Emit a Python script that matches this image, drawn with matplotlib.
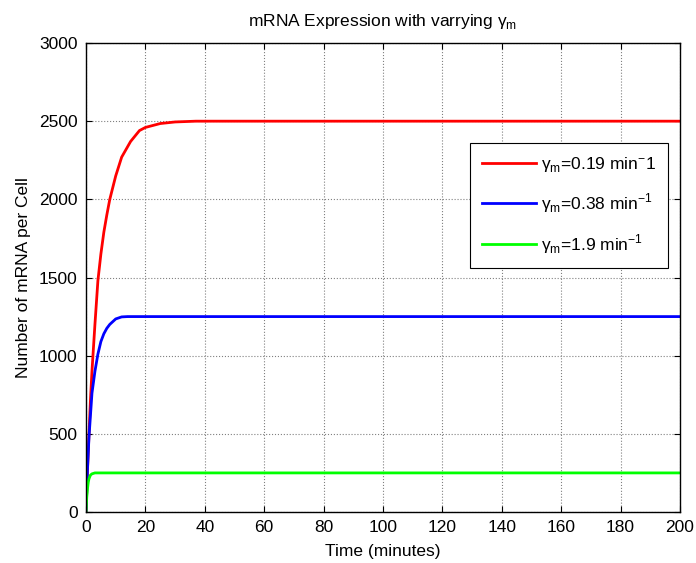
import matplotlib
matplotlib.use("Agg")
import matplotlib.pyplot as plt

plt.rcParams['font.family'] = ['Liberation Sans', 'DejaVu Sans']
plt.rcParams['font.size'] = 12.5

# values
t_red = [0, 0.5, 1, 1.5, 2, 3, 4, 5, 6, 7, 8, 10, 12, 15, 18, 20, 25, 30, 37, 200]
m_red = [0, 270, 500, 720, 900, 1200, 1480, 1650, 1790, 1900, 2000, 2150, 2270, 2370, 2440, 2460, 2485, 2495, 2500, 2500]

t_blue = [0, 0.5, 1, 1.5, 2, 3, 4, 5, 6, 7, 8, 10, 12, 14, 200]
m_blue = [0, 280, 480, 620, 760, 900, 1010, 1090, 1140, 1175, 1200, 1235, 1248, 1250, 1250]

t_green = [0, 0.25, 0.5, 0.75, 1, 1.5, 2, 3, 200]
m_green = [0, 95, 150, 190, 213, 236, 244, 250, 250]

labels = [u'\u03b3$_\\mathregular{m}$=0.19 min$^\\mathregular{-}$1',
          u'\u03b3$_\\mathregular{m}$=0.38 min$^\\mathregular{-1}$',
          u'\u03b3$_\\mathregular{m}$=1.9 min$^\\mathregular{-1}$']

fig = plt.figure(figsize=(6.96, 5.63), dpi=100)
ax = fig.add_axes([0.1236, 0.0906, 0.8534, 0.833])

ax.plot(t_red, m_red, color='#ff0000', lw=2, label=labels[0])
ax.plot(t_blue, m_blue, color='#0000ff', lw=2, label=labels[1])
ax.plot(t_green, m_green, color='#00ff00', lw=2, label=labels[2])

ax.set_xlim(0, 200)
ax.set_ylim(0, 3000)
ax.set_xticks(range(0, 201, 20))
ax.set_yticks(range(0, 3001, 500))
ax.grid(True, color='#808080', ls=':', lw=0.8)
ax.tick_params(direction='in', top=True, right=True, length=4, pad=6)
for s in ax.spines.values():
    s.set_linewidth(1)

ax.set_title(u'mRNA Expression with varrying \u03b3$_\\mathregular{m}$', fontsize=12.5, pad=12)
ax.set_xlabel('Time (minutes)', labelpad=6)
ax.set_ylabel('Number of mRNA per Cell', labelpad=6)

leg = ax.legend(loc='upper right', bbox_to_anchor=(0.980, 0.787), borderaxespad=0,
                fancybox=False, edgecolor='black', framealpha=1, handlelength=3.1,
                labelspacing=1.0, borderpad=0.7, handletextpad=0.3)
leg.get_frame().set_linewidth(0.8)

fig.savefig('out.png', dpi=100)
